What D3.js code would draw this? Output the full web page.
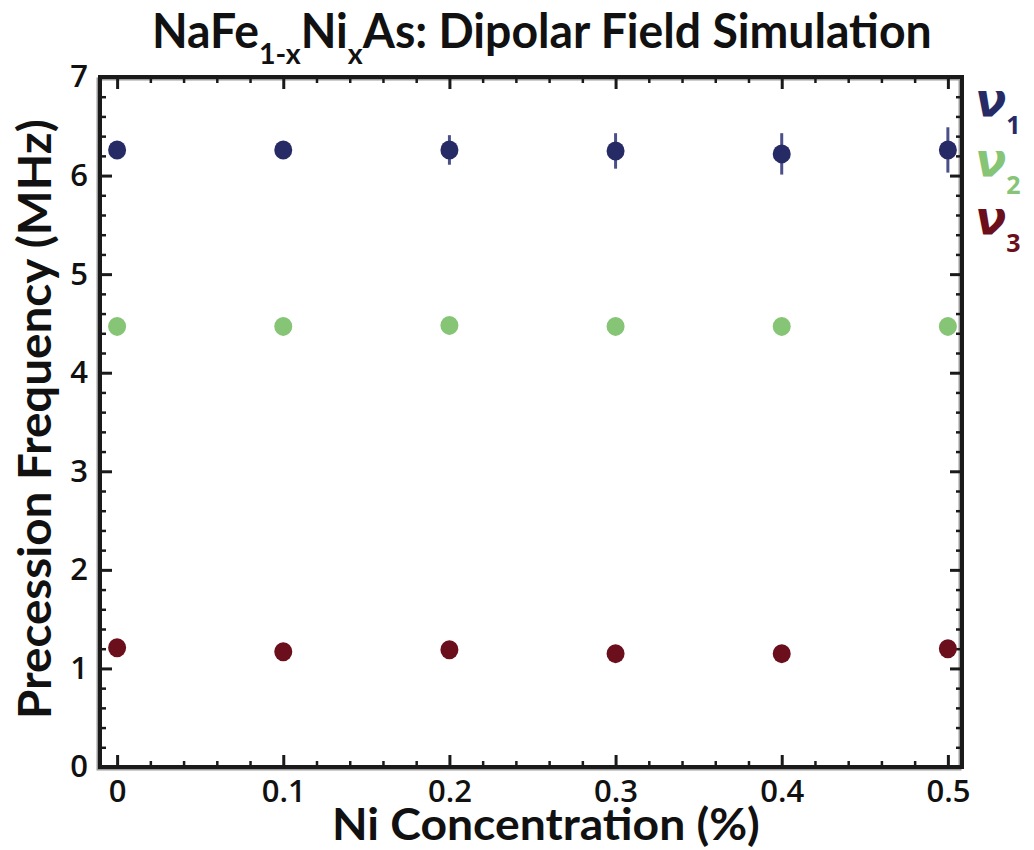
<!DOCTYPE html>
<html>
<head>
<meta charset="utf-8">
<script src="https://cdn.jsdelivr.net/npm/d3@7"></script>
<style>
  html, body { margin: 0; padding: 0; background: #fff; }
  svg { display: block; }
</style>
</head>
<body>
<svg id="chart" width="1034" height="850"></svg>
<script>
// Ni concentration (x) and simulated precession frequencies (MHz)
const concentration = [0, 0.1, 0.2, 0.3, 0.4, 0.5];
const nu1 = [6.26, 6.26, 6.26, 6.25, 6.22, 6.26];
const nu1Err = [0.05, 0.05, 0.15, 0.18, 0.21, 0.23];
const nu2 = [4.47, 4.47, 4.48, 4.47, 4.47, 4.47];
const nu3 = [1.21, 1.17, 1.19, 1.15, 1.15, 1.20];

const xTicks = [0, 0.1, 0.2, 0.3, 0.4, 0.5];
const xTickLabels = ["0", "0.1", "0.2", "0.3", "0.4", "0.5"];
const yTicks = [0, 1, 2, 3, 4, 5, 6, 7];
const seriesNames = ["1", "2", "3"];

const colors = ["#262b66", "#86c476", "#6b0f1c"];
const font = "'Open Sans', 'DejaVu Sans', sans-serif";
const labelFont = "Lato, 'Open Sans', sans-serif";

const svg = d3.select("#chart");
const plot = { left: 100, right: 962, top: 77, bottom: 767 };

const x = d3.scaleLinear().domain([-0.0103, 0.5085]).range([plot.left, plot.right]);
const y = d3.scaleLinear().domain([0, 7]).range([plot.bottom, plot.top]);

const xMinor = d3.range(0, 0.5001, 0.02).filter(v => Math.abs(v * 10 - Math.round(v * 10)) > 1e-6);
const yMinor = d3.range(0, 7.0001, 0.2).filter(v => Math.abs(v - Math.round(v)) > 1e-6);

// frame shadow
svg.append("rect")
  .attr("x", plot.left - 2).attr("y", plot.top + 2)
  .attr("width", plot.right - plot.left).attr("height", plot.bottom - plot.top)
  .attr("fill", "none").attr("stroke", "#9a9a9a").attr("stroke-width", 3);

function styleAxis(g, width) {
  g.select(".domain").remove();
  g.selectAll(".tick line").attr("stroke", "#1a1a1a").attr("stroke-width", width);
}

// major ticks with labels
const bottomAxis = d3.axisBottom(x).tickValues(xTicks)
  .tickFormat((d, i) => xTickLabels[i]).tickSize(-12).tickPadding(13);
svg.append("g").attr("transform", `translate(0,${plot.bottom})`).call(bottomAxis)
  .call(g => styleAxis(g, 3))
  .call(g => g.selectAll("text").attr("font-family", font).attr("font-weight", 600)
    .attr("font-size", 31).attr("fill", "#111"));

const leftAxis = d3.axisLeft(y).tickValues(yTicks).tickFormat(d3.format("d"))
  .tickSize(-12).tickPadding(12);
svg.append("g").attr("transform", `translate(${plot.left},0)`).call(leftAxis)
  .call(g => styleAxis(g, 3))
  .call(g => g.selectAll("text").attr("font-family", font).attr("font-weight", 600)
    .attr("font-size", 31).attr("fill", "#111"));

// mirrored major ticks
svg.append("g").attr("transform", `translate(0,${plot.top})`)
  .call(d3.axisTop(x).tickValues(xTicks).tickSize(-12).tickFormat(""))
  .call(g => styleAxis(g, 3));
svg.append("g").attr("transform", `translate(${plot.right},0)`)
  .call(d3.axisRight(y).tickValues(yTicks).tickSize(-12).tickFormat(""))
  .call(g => styleAxis(g, 3));

// minor ticks on all four sides
svg.append("g").attr("transform", `translate(0,${plot.bottom})`)
  .call(d3.axisBottom(x).tickValues(xMinor).tickSize(-6).tickFormat(""))
  .call(g => styleAxis(g, 2.5));
svg.append("g").attr("transform", `translate(0,${plot.top})`)
  .call(d3.axisTop(x).tickValues(xMinor).tickSize(-6).tickFormat(""))
  .call(g => styleAxis(g, 2.5));
svg.append("g").attr("transform", `translate(${plot.left},0)`)
  .call(d3.axisLeft(y).tickValues(yMinor).tickSize(-6).tickFormat(""))
  .call(g => styleAxis(g, 2.5));
svg.append("g").attr("transform", `translate(${plot.right},0)`)
  .call(d3.axisRight(y).tickValues(yMinor).tickSize(-6).tickFormat(""))
  .call(g => styleAxis(g, 2.5));

// frame
svg.append("rect")
  .attr("x", plot.left).attr("y", plot.top)
  .attr("width", plot.right - plot.left).attr("height", plot.bottom - plot.top)
  .attr("fill", "none").attr("stroke", "#1a1a1a").attr("stroke-width", 4);

// error bars for nu1
const nu1Data = concentration.map((c, i) => ({ c, v: nu1[i], e: nu1Err[i] }));
svg.append("g").selectAll("line").data(nu1Data).join("line")
  .attr("x1", d => x(d.c)).attr("x2", d => x(d.c))
  .attr("y1", d => y(d.v - d.e)).attr("y2", d => y(d.v + d.e))
  .attr("stroke", "#4b5088").attr("stroke-width", 3);

// markers
[nu1, nu2, nu3].forEach((vals, s) => {
  svg.append("g").selectAll("ellipse").data(vals).join("ellipse")
    .attr("cx", (d, i) => x(concentration[i]))
    .attr("cy", d => y(d))
    .attr("rx", 9).attr("ry", 9.5)
    .attr("fill", colors[s]);
});

// condense a text node horizontally to a given width, centred on cx
function fitWidth(sel, cx, target) {
  const bb = sel.node().getBBox();
  const k = target / bb.width;
  sel.attr("transform", `translate(${cx},0) scale(${k},1) translate(${-(bb.x + bb.width / 2)},0)`);
}

// title with subscripts
const title = svg.append("text")
  .attr("x", 0).attr("y", 48)
  .attr("font-family", labelFont).attr("font-weight", 700).attr("font-size", 47)
  .attr("fill", "#111");
title.append("tspan").text("NaFe");
title.append("tspan").attr("font-size", 29).attr("dy", 16).text("1-x");
title.append("tspan").attr("dy", -16).text("Ni");
title.append("tspan").attr("font-size", 29).attr("dy", 16).text("x");
title.append("tspan").attr("dy", -16).text("As: Dipolar Field Simulation");
fitWidth(title, 542, 780);

// x-axis label
const xLabel = svg.append("text")
  .attr("x", 0).attr("y", 840)
  .attr("font-family", labelFont).attr("font-weight", 700).attr("font-size", 44)
  .attr("fill", "#111").text("Ni Concentration (%)");
fitWidth(xLabel, 546, 428);

// y-axis label (rotated)
const yLabelG = svg.append("g").attr("transform", "translate(51,419) rotate(-90)");
const yLabel = yLabelG.append("text")
  .attr("x", 0).attr("y", 0)
  .attr("font-family", labelFont).attr("font-weight", 700).attr("font-size", 46)
  .attr("fill", "#111").text("Precession Frequency (MHz)");
fitWidth(yLabel, 0, 600);

// legend: nu symbols with subscripts
const legendY = [116, 176, 234];
seriesNames.forEach((name, i) => {
  const t = svg.append("text")
    .attr("x", 975).attr("y", legendY[i])
    .attr("font-family", "'DejaVu Sans', sans-serif").attr("font-weight", 700)
    .attr("font-style", "italic").attr("font-size", 46)
    .attr("fill", colors[i]);
  t.append("tspan").text("\u03bd");
  t.append("tspan").attr("font-size", 25).attr("font-style", "normal")
    .attr("font-family", font).attr("dy", 18).attr("dx", 0).text(name);
});
</script>
</body>
</html>
